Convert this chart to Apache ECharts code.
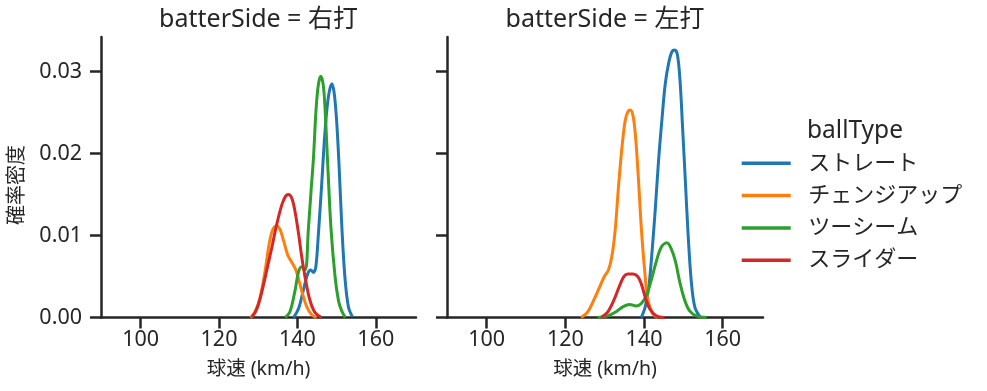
<!DOCTYPE html>
<html>
<head>
<meta charset="utf-8">
<script src="https://cdn.jsdelivr.net/npm/echarts@6/dist/echarts.min.js"></script>
<style>html,body{margin:0;padding:0;background:#fff;}#c{width:987px;height:391px;}</style>
</head>
<body>
<div id="c"></div>
<script>
// ---- data ----
const categories = ['ストレート', 'チェンジアップ', 'ツーシーム', 'スライダー'];
const facets = ['右打', '左打'];
const xTicks = [100, 120, 140, 160];
const yTicks = [0, 0.01, 0.02, 0.03];

// batterSide = 右打
const rStraight = [[139.0,0],[140.3,0.0011],[141.5,0.0033],[142.6,0.0053],[143.4,0.0058],[144.1,0.0055],[144.7,0.0062],[145.3,0.0098],[146.2,0.0163],[147.0,0.0224],[147.9,0.0269],[148.8,0.0285],[149.4,0.0273],[150.0,0.0240],[150.6,0.0188],[151.3,0.0114],[152.1,0.0050],[153.0,0.0013],[154.0,0.0001]];
const rChange = [[128.0,0],[129.2,0.0007],[130.5,0.0025],[131.8,0.0058],[132.8,0.0090],[133.7,0.0107],[134.75,0.0112],[135.6,0.0107],[136.45,0.0094],[137.55,0.0076],[138.6,0.0067],[139.6,0.0058],[140.4,0.0045],[141.3,0.0029],[142.4,0.0013],[143.7,0.0003],[144.9,0]];
const rTwoSeam = [[136.9,0],[138.1,0.0007],[139.4,0.0033],[140.3,0.0056],[141.1,0.0062],[142.0,0.0058],[142.8,0.0108],[143.45,0.0152],[144.1,0.0195],[144.75,0.0253],[145.35,0.0284],[146.0,0.0294],[146.6,0.0283],[147.05,0.0255],[147.65,0.0195],[148.55,0.0110],[149.6,0.0050],[150.5,0.0020],[151.3,0.0008],[152.2,0]];
const rSlider = [[128.4,0],[129.7,0.0011],[130.9,0.0031],[132.2,0.0058],[133.5,0.0086],[134.75,0.0114],[136.0,0.0137],[137.0,0.0148],[137.7,0.0150],[138.6,0.0145],[139.4,0.0129],[140.3,0.0102],[141.1,0.0074],[142.0,0.0048],[143.2,0.0021],[144.5,0.0006],[146.2,0]];

// batterSide = 左打
const lStraight = [[139.3,0],[140.3,0.0013],[141.2,0.0037],[142.0,0.0078],[142.9,0.0135],[143.7,0.0192],[144.6,0.0244],[145.4,0.0285],[146.3,0.0311],[147.1,0.0324],[147.8,0.0326],[148.5,0.0320],[149.15,0.0289],[149.8,0.0232],[150.5,0.0167],[151.2,0.0102],[152.0,0.0045],[152.9,0.0013],[154.2,0.0001]];
const lChange = [[124.0,0],[125.7,0.0007],[127.4,0.0023],[128.7,0.0037],[129.9,0.0050],[130.95,0.0058],[131.8,0.0074],[132.65,0.0106],[133.5,0.0159],[134.4,0.0208],[135.2,0.0240],[135.9,0.0251],[136.5,0.0253],[137.2,0.0246],[137.85,0.0220],[138.6,0.0167],[139.3,0.0110],[140.15,0.0058],[141.0,0.0021],[142.3,0.0004],[143.5,0]];
const lTwoSeam = [[128.2,0],[130.8,0.0002],[132.9,0.0007],[134.6,0.0013],[136.3,0.0016],[138.0,0.0014],[139.3,0.0017],[140.6,0.0027],[141.8,0.0045],[143.1,0.0068],[144.4,0.0086],[145.8,0.0091],[146.9,0.0084],[148.0,0.0068],[149.1,0.0043],[150.35,0.0021],[151.6,0.0008],[153.3,0.0002],[155.9,0]];
const lSlider = [[129.1,0],[130.8,0.0007],[132.5,0.0023],[133.8,0.0039],[134.9,0.0050],[135.9,0.0053],[137.2,0.0053],[138.4,0.0050],[139.3,0.0041],[140.3,0.0025],[141.4,0.0011],[143.1,0.0002],[145.2,0]];

const colors = ['#1f77b4', '#ff7f0e', '#2ca02c', '#d62728'];
const panelData = [
  [rStraight, rChange, rTwoSeam, rSlider],
  [lStraight, lChange, lTwoSeam, lSlider]
];

// ---- chart ----
const FONT = '"Noto Sans", "Noto Sans CJK JP", sans-serif';
const INK = '#262626';
const chart = echarts.init(document.getElementById('c'), null, {renderer: 'canvas'});

const grids = [
  {left: 101, top: 37, width: 315, height: 280.5},
  {left: 447, top: 37, width: 316, height: 280.5}
];

function xAxisFor(i) {
  return {
    type: 'value', gridIndex: i, min: 89.9, max: 170.25,
    name: '球速 (km/h)', nameLocation: 'middle', nameGap: 42,
    nameTextStyle: {fontFamily: FONT, fontSize: 19.5, color: INK},
    axisLine: {lineStyle: {color: INK, width: 2.5}},
    axisTick: {length: 11, lineStyle: {color: INK, width: 2.5}, customValues: xTicks},
    axisLabel: {fontFamily: FONT, fontSize: 21.5, color: INK, margin: 12, customValues: xTicks},
    splitLine: {show: false}
  };
}
function yAxisFor(i) {
  return {
    type: 'value', gridIndex: i, min: 0, max: 0.0342,
    axisLine: {show: true, lineStyle: {color: INK, width: 2.5}},
    axisTick: {show: true, length: 11, lineStyle: {color: INK, width: 2.5}, customValues: yTicks},
    axisLabel: {show: i === 0, fontFamily: FONT, fontSize: 21.5, color: INK, margin: 19,
      customValues: yTicks, formatter: v => v.toFixed(2)},
    splitLine: {show: false}
  };
}

const series = [];
panelData.forEach((curves, p) => {
  curves.forEach((d, k) => {
    series.push({
      name: categories[k], type: 'line', xAxisIndex: p, yAxisIndex: p,
      data: d, smooth: 0.35, symbol: 'none', showSymbol: false,
      lineStyle: {color: colors[k], width: 3}, itemStyle: {color: colors[k]},
      animation: false, z: 2 + k
    });
  });
});

chart.setOption({
  animation: false,
  color: colors,
  grid: grids,
  xAxis: [xAxisFor(0), xAxisFor(1)],
  yAxis: [yAxisFor(0), yAxisFor(1)],
  legend: {
    data: categories, orient: 'vertical', left: 736.7, top: 147.3,
    itemWidth: 49, itemHeight: 3.5, itemGap: 10.3,
    icon: 'rect',
    textStyle: {fontFamily: FONT, fontSize: 22, color: INK, lineHeight: 22, padding: [0, 0, 0, 12.6]},
    selectedMode: false
  },
  graphic: [
    {type: 'text', x: 258.5, y: 20, style: {text: 'batterSide = ' + facets[0], font: '25px ' + FONT, fill: INK, textAlign: 'center', textVerticalAlign: 'middle'}},
    {type: 'text', x: 605, y: 20, style: {text: 'batterSide = ' + facets[1], font: '25px ' + FONT, fill: INK, textAlign: 'center', textVerticalAlign: 'middle'}},
    {type: 'text', x: 17, y: 185, rotation: Math.PI / 2, style: {text: '確率密度', font: '20px ' + FONT, fill: INK, textAlign: 'center', textVerticalAlign: 'middle'}},
    {type: 'text', x: 855, y: 131, style: {text: 'ballType', font: '24.5px ' + FONT, fill: INK, textAlign: 'center', textVerticalAlign: 'middle'}}
  ],
  series: series
});
</script>
</body>
</html>
